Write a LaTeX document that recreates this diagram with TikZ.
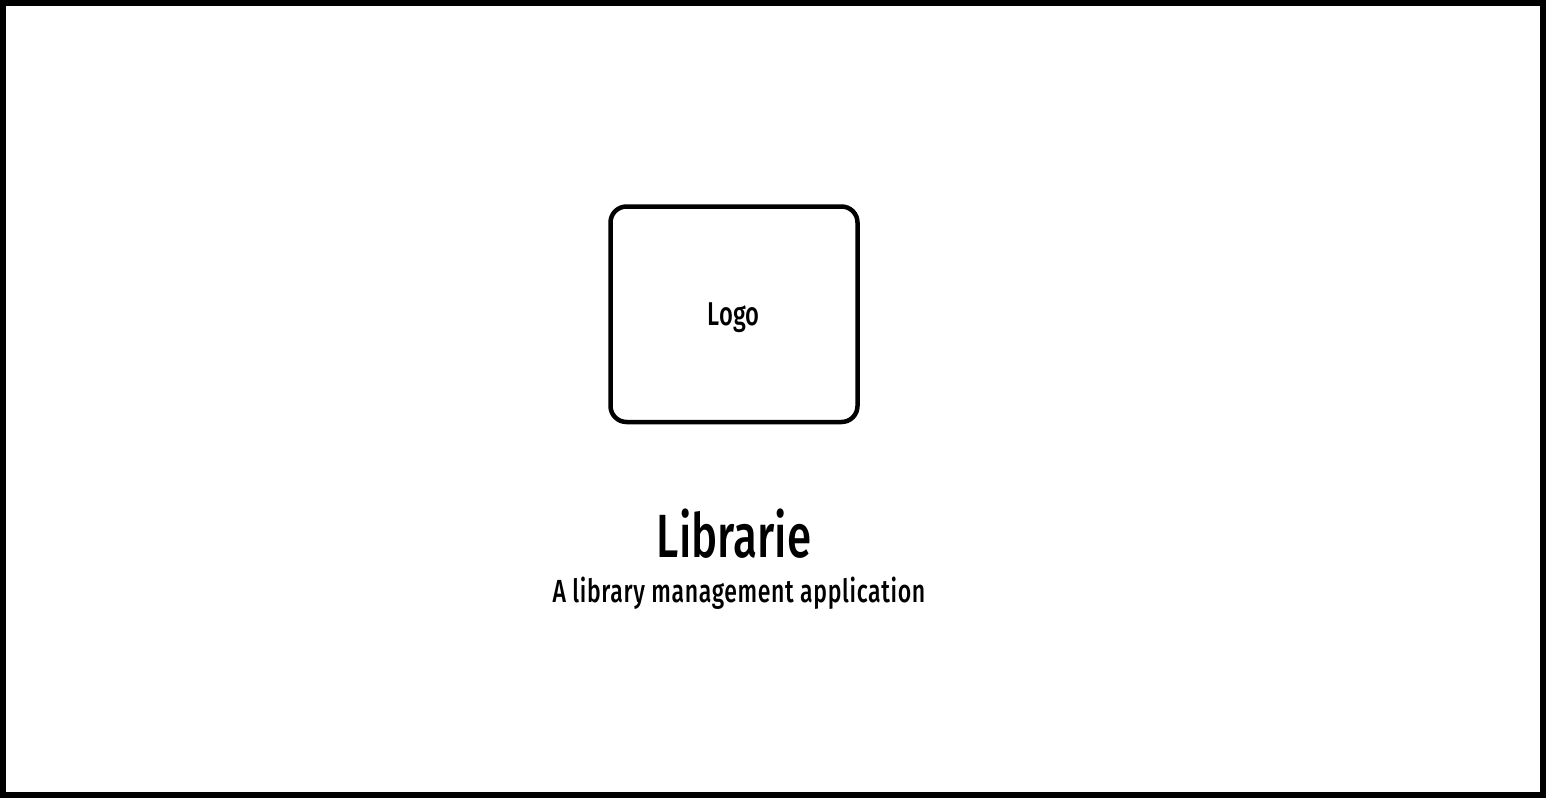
\documentclass[tikz,border=0pt]{standalone}
\usepackage{fontspec}
\newfontfamily\condfont[FakeStretch=0.72]{Fira Sans Medium}
\newfontfamily\condfontsp[FakeStretch=0.72,LetterSpace=2]{Fira Sans Medium}
\begin{document}
\begin{tikzpicture}[x=1pt,y=-1pt,
  frame/.style={draw=black,line width=6pt},
  logobox/.style={draw=black,line width=4.5pt,rounded corners=16pt},
  txt/.style={inner sep=0pt,text=black}]
\useasboundingbox (0,0) rectangle (1547,798);
\draw[frame] (3,3) rectangle (1543,795);
\draw[logobox] (610.5,206.5) rectangle (857.5,422);
\node[txt,anchor=base,font=\condfont\fontsize{33}{33}\selectfont] (logo) at (733.5,325) {Logo};
\node[txt,anchor=base,font=\condfont\fontsize{61}{61}\selectfont] (title) at (734,557) {Librarie};
\node[txt,anchor=base,font=\condfontsp\fontsize{32}{32}\selectfont] (sub) at (739,602) {A library management application};
\end{tikzpicture}
\end{document}
